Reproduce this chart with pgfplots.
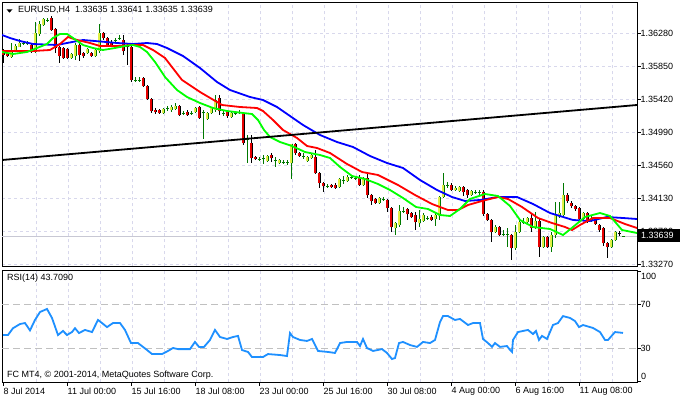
\documentclass[border=0pt]{standalone}
\usepackage{pgfplots}
\pgfplotsset{compat=1.18}
\usepackage{pgfplotstable}
\usepackage{fontspec}
\setmainfont{Liberation Sans}
\definecolor{gridc}{RGB}{216,216,236}
\definecolor{bullw}{RGB}{0,120,0}
\definecolor{bullf}{RGB}{225,240,70}
\definecolor{bearf}{RGB}{230,0,0}
\definecolor{rsic}{RGB}{30,144,255}
\definecolor{lvl}{RGB}{192,192,192}
\definecolor{bidc}{RGB}{200,200,212}
\newcommand\mtf{\fontsize{9bp}{11bp}\selectfont}

\pgfplotstableread{
i o h l c
2 1.35968 1.36150 1.35955 1.36059
3 1.36059 1.36137 1.36046 1.36111
4 1.36098 1.36202 1.36098 1.36150
5 1.36150 1.36176 1.36124 1.36150
6 1.36137 1.36176 1.36124 1.36150
8 1.36033 1.36423 1.36020 1.36280
9 1.36267 1.36436 1.36241 1.36397
10 1.36384 1.36475 1.36371 1.36462
11 1.36449 1.36475 1.36423 1.36449
17 1.35955 1.36020 1.35942 1.36007
18 1.35981 1.36150 1.35929 1.36124
21 1.36020 1.36085 1.36007 1.36072
23 1.35981 1.36072 1.35968 1.36059
24 1.36046 1.36397 1.36020 1.36280
28 1.36176 1.36215 1.36150 1.36189
29 1.36215 1.36254 1.36189 1.36215
33 1.35669 1.35708 1.35643 1.35669
34 1.35669 1.35708 1.35643 1.35669
40 1.35240 1.35305 1.35227 1.35292
41 1.35305 1.35331 1.35266 1.35305
42 1.35279 1.35344 1.35253 1.35318
43 1.35292 1.35370 1.35279 1.35331
45 1.35240 1.35266 1.35214 1.35240
47 1.35240 1.35266 1.35214 1.35240
48 1.35253 1.35318 1.35240 1.35305
50 1.35240 1.35279 1.34902 1.35253
51 1.35162 1.35253 1.35149 1.35240
52 1.35240 1.35305 1.35227 1.35305
53 1.35279 1.35474 1.35253 1.35409
55 1.35240 1.35279 1.35201 1.35240
57 1.35188 1.35253 1.35175 1.35240
58 1.35240 1.35266 1.35214 1.35240
59 1.35240 1.35279 1.35227 1.35253
61 1.34889 1.34954 1.34590 1.34902
64 1.34642 1.34668 1.34616 1.34642
65 1.34642 1.34694 1.34577 1.34655
66 1.34616 1.34694 1.34603 1.34681
68 1.34629 1.34668 1.34538 1.34629
69 1.34590 1.34642 1.34577 1.34629
70 1.34603 1.34629 1.34577 1.34603
71 1.34603 1.34629 1.34564 1.34603
72 1.34590 1.34837 1.34382 1.34837
75 1.34681 1.34720 1.34642 1.34681
76 1.34616 1.34681 1.34603 1.34668
77 1.34655 1.34707 1.34642 1.34694
81 1.34291 1.34317 1.34265 1.34291
84 1.34278 1.34395 1.34265 1.34382
85 1.34369 1.34421 1.34317 1.34369
86 1.34356 1.34434 1.34343 1.34408
87 1.34408 1.34434 1.34382 1.34408
88 1.34395 1.34421 1.34369 1.34395
90 1.34304 1.34408 1.34291 1.34395
94 1.34070 1.34148 1.34057 1.34135
95 1.34122 1.34148 1.34096 1.34122
98 1.33745 1.33823 1.33654 1.33810
99 1.33784 1.34044 1.33758 1.33966
100 1.33966 1.34018 1.33940 1.33966
104 1.33810 1.33979 1.33758 1.33862
105 1.33836 1.33940 1.33823 1.33914
106 1.33875 1.33901 1.33849 1.33875
108 1.33862 1.33953 1.33771 1.33914
109 1.33901 1.34161 1.33849 1.34148
110 1.34148 1.34460 1.34135 1.34304
111 1.34304 1.34343 1.34265 1.34304
113 1.34239 1.34291 1.34226 1.34265
114 1.34226 1.34291 1.34213 1.34278
117 1.34174 1.34239 1.34161 1.34226
118 1.34213 1.34239 1.34187 1.34213
119 1.34213 1.34239 1.34174 1.34213
123 1.33693 1.33784 1.33680 1.33758
125 1.33667 1.33719 1.33641 1.33667
126 1.33667 1.33745 1.33498 1.33667
128 1.33485 1.33784 1.33459 1.33693
129 1.33693 1.33849 1.33680 1.33823
130 1.33823 1.33875 1.33797 1.33823
131 1.33823 1.33888 1.33810 1.33875
133 1.33745 1.33953 1.33732 1.33836
135 1.33498 1.33641 1.33485 1.33628
137 1.33498 1.33693 1.33433 1.33654
138 1.33654 1.34083 1.33615 1.33914
139 1.33888 1.34083 1.33875 1.33940
140 1.33914 1.34330 1.33875 1.34174
145 1.33862 1.33953 1.33849 1.33940
147 1.33836 1.33901 1.33823 1.33875
152 1.33498 1.33602 1.33485 1.33589
153 1.33589 1.33706 1.33576 1.33693
155 1.33635 1.33641 1.33635 1.33639
}\bull

\pgfplotstableread{
i o h l c
0 1.36059 1.36072 1.35890 1.35994
1 1.36020 1.36033 1.35968 1.35981
7 1.36124 1.36137 1.36020 1.36033
12 1.36475 1.36501 1.36306 1.36319
13 1.36332 1.36345 1.36020 1.36085
14 1.36098 1.36111 1.35890 1.35981
15 1.36085 1.36098 1.35942 1.35955
16 1.36072 1.36085 1.35942 1.35955
19 1.36124 1.36150 1.35916 1.35994
20 1.36020 1.36033 1.35955 1.35981
22 1.36020 1.36033 1.35968 1.35981
25 1.36280 1.36293 1.36189 1.36215
26 1.36215 1.36228 1.36098 1.36111
27 1.36163 1.36189 1.36098 1.36111
30 1.36189 1.36254 1.35994 1.36046
31 1.36111 1.36150 1.35864 1.36098
32 1.36098 1.36124 1.35643 1.35669
35 1.35695 1.35708 1.35578 1.35591
36 1.35591 1.35604 1.35409 1.35422
37 1.35422 1.35435 1.35240 1.35266
38 1.35279 1.35305 1.35227 1.35253
39 1.35279 1.35292 1.35227 1.35240
44 1.35331 1.35344 1.35201 1.35214
46 1.35253 1.35279 1.35201 1.35214
49 1.35318 1.35331 1.35162 1.35175
54 1.35435 1.35474 1.35214 1.35266
56 1.35253 1.35279 1.35175 1.35201
60 1.35240 1.35253 1.34824 1.34850
62 1.34850 1.34954 1.34590 1.34655
63 1.34668 1.34681 1.34629 1.34642
67 1.34694 1.34720 1.34603 1.34655
73 1.34837 1.34850 1.34694 1.34720
74 1.34720 1.34733 1.34668 1.34681
78 1.34668 1.34759 1.34447 1.34460
79 1.34460 1.34473 1.34265 1.34330
80 1.34330 1.34343 1.34213 1.34291
82 1.34304 1.34317 1.34265 1.34278
83 1.34304 1.34330 1.34252 1.34265
89 1.34408 1.34434 1.34291 1.34304
91 1.34395 1.34460 1.34135 1.34174
92 1.34174 1.34187 1.34044 1.34096
93 1.34122 1.34135 1.34057 1.34070
96 1.34109 1.34122 1.33953 1.34005
97 1.34005 1.34018 1.33693 1.33758
101 1.33992 1.34005 1.33849 1.33927
102 1.33940 1.33953 1.33875 1.33888
103 1.33914 1.33953 1.33719 1.33823
107 1.33888 1.33914 1.33836 1.33849
112 1.34304 1.34330 1.34226 1.34239
115 1.34278 1.34291 1.34161 1.34213
116 1.34239 1.34252 1.34135 1.34174
120 1.34213 1.34239 1.33901 1.33927
121 1.33927 1.33940 1.33836 1.33849
122 1.33849 1.33862 1.33563 1.33693
124 1.33758 1.33771 1.33641 1.33654
127 1.33654 1.33667 1.33329 1.33485
132 1.33875 1.33940 1.33693 1.33745
134 1.33836 1.33875 1.33368 1.33498
136 1.33628 1.33641 1.33485 1.33498
141 1.34174 1.34200 1.34070 1.34096
142 1.34070 1.34096 1.34005 1.34031
143 1.34031 1.34044 1.33966 1.33992
144 1.34005 1.34018 1.33836 1.33862
146 1.33940 1.33953 1.33810 1.33836
148 1.33849 1.33875 1.33784 1.33797
149 1.33784 1.33797 1.33693 1.33719
150 1.33745 1.33758 1.33511 1.33550
151 1.33550 1.33563 1.33355 1.33498
154 1.33680 1.33706 1.33641 1.33667
}\bear

\pgfplotstableread{
i p
-0.25 1.36254
1.75 1.36215
4.25 1.36176
7.5 1.36137
13.5 1.36124
16 1.36150
20 1.36189
24.25 1.36170
28.5 1.36150
32.5 1.36137
36 1.36150
38.5 1.36137
41 1.36085
45 1.35981
49.25 1.35825
53.5 1.35643
56.75 1.35539
61.75 1.35448
65 1.35409
68.5 1.35318
71.75 1.35201
75 1.35084
79.25 1.34954
83.5 1.34863
87.5 1.34798
91.75 1.34681
96 1.34590
100 1.34525
104.25 1.34369
108.5 1.34239
112.25 1.34148
115.5 1.34096
119.25 1.34109
123.75 1.34148
128.5 1.34148
132.5 1.34057
136.75 1.33940
142.5 1.33849
146.75 1.33836
151 1.33888
155 1.33875
158.5 1.33862
}\mablue

\pgfplotstableread{
i p
-0.25 1.36046
3.5 1.36046
7.5 1.36046
11.75 1.36059
14.25 1.36137
16.25 1.36228
18.5 1.36189
21.75 1.36150
24.25 1.36111
28.5 1.36111
32.5 1.36124
35 1.36124
37.5 1.36059
40.5 1.35955
44.75 1.35669
49.25 1.35513
53.5 1.35383
54.75 1.35344
59.25 1.35318
63.5 1.35305
65 1.35266
67.5 1.35149
70 1.35019
73.5 1.34915
76 1.34811
78.5 1.34785
81.75 1.34720
86 1.34577
89.75 1.34473
93.75 1.34434
98.75 1.34304
103 1.34174
107.25 1.34057
111.25 1.33979
113.75 1.33979
116.25 1.34044
119.75 1.34096
123.75 1.34148
126.25 1.34122
129.75 1.34018
133.75 1.33875
137.25 1.33810
140.5 1.33758
142.25 1.33719
144.25 1.33784
147.5 1.33875
151.75 1.33875
155.5 1.33797
158.5 1.33745
}\mared

\pgfplotstableread{
i p
-0.25 1.36033
2.5 1.36007
6 1.36033
8.5 1.36085
11 1.36137
12.5 1.36215
14.25 1.36267
16 1.36267
17.5 1.36215
20 1.36124
22.5 1.36085
25 1.36059
28 1.36085
30.5 1.36111
32.5 1.36124
34.25 1.36098
36 1.36033
38 1.35903
40.5 1.35708
43.5 1.35539
46 1.35448
49.25 1.35370
52.5 1.35305
56 1.35266
60 1.35240
62.25 1.35227
63.75 1.35149
65.25 1.35019
66.75 1.34928
69.25 1.34863
72.25 1.34811
75.5 1.34733
79.25 1.34694
81.75 1.34655
84.25 1.34538
87.25 1.34421
90.5 1.34382
93.75 1.34317
96.75 1.34239
100 1.34135
103.25 1.34018
106.25 1.33992
109.25 1.33914
111.75 1.33901
114.25 1.33992
116.75 1.34122
120.5 1.34187
123.75 1.34161
126.75 1.34031
129.25 1.33849
132.5 1.33758
136.75 1.33732
140 1.33654
142.5 1.33758
145.5 1.33888
149.25 1.33940
151.75 1.33901
154.75 1.33719
158.5 1.33680
}\magreen

\pgfplotstableread{
i v
0 41.8
1.25 41.8
2.5 48
4.25 51.8
5.5 52.7
6.75 46
8 55.5
9.25 62.7
11 65.5
12.25 57.3
13.75 41.8
15 45.5
16 41.8
17.25 44.5
18 48
19 43.6
20.5 46.4
22.25 44.5
23.75 55.5
24.75 52.7
26 49
27.5 52.7
29.25 52.7
30.5 46.4
32 34.5
33.75 34.5
36 28.2
37.25 24.5
39.75 24.5
41.25 27.3
42.5 30
43.75 29
46.75 29
48 35.5
49 31
50.25 31
51.75 37.3
53 46.4
54.25 40
56 38.2
57.5 40
58.75 41
59.75 28.2
61.25 26.4
62.25 21.8
65 21.8
66.25 24.5
69.25 23.6
71 22.7
71.75 43.6
72.5 40
74.25 37.3
76 36.4
77.25 38.2
78.75 27.3
81.25 26.4
83 25.5
84.25 34.5
86 35.5
88.5 35.5
89.25 31.8
90 38.2
91 30
92.5 27.3
94.75 29
96 25.5
97.25 20
98 20.9
99 34.5
100 35.5
101.75 32.7
103.5 31
105 35.5
106.75 34.5
108 37.3
109.25 53.6
110 59
111.25 59
113 55.5
114.25 56.4
116.25 50.9
117.5 52.7
119.25 52.7
120 38.2
121.25 34.5
122.25 31
123 34.5
124.25 31
126 31.8
126.75 28.2
127.25 26.4
127.5 37.3
128.75 44.5
130 45.5
131.25 46.4
132.5 42.7
133.25 45.5
134 37.3
134.75 41
136 38.2
137.5 50.9
138.75 52.7
140 59
141.75 57.3
143 54.5
144 49
145 50.9
147.5 48.2
149.25 44.5
150.5 37.3
151.25 37.3
153 44.5
155 43.709
}\rsi

\pgfplotsset{
  mt/.style={
    scale only axis, width=635bp,
    xmin=-0.25, xmax=158.5,
    axis line style={black, line width=0.9bp},
    tick label style={font=\mtf, /pgf/number format/assume math mode=true},
    ytick pos=right, yticklabel pos=right,
    tick align=outside, major tick length=3.5bp,
    tick style={black, line width=0.8bp},
    yticklabel style={anchor=west, inner sep=0pt},
    major grid style={gridc, dash pattern=on 3bp off 3bp, line width=0.8bp},
  },
  cndl/.style={draw=none, mark=none, forget plot,
    error bars/y dir=both, error bars/y explicit, error bars/error mark=none},
}

\begin{document}
\begin{tikzpicture}
\useasboundingbox (0,0) rectangle (680bp,400bp);
\fill[white] (0,0) rectangle (680bp,400bp);

\begin{axis}[mt, at={(2bp,133.5bp)}, anchor=south west, height=264.5bp,
  ymin=1.332445, ymax=1.36683,
  xtick={8.25,16.25,...,152.25}, xticklabels={}, xmajorgrids, xtick style={draw=none},
  ytick={1.3327,1.337,1.3413,1.3456,1.3499,1.3542,1.3585,1.3628},
  ymajorgrids,
  yticklabel={\pgfmathprintnumber[fixed,fixed zerofill,precision=5,assume math mode=true]{\tick}},
]
\addplot[bidc, line width=0.8bp, forget plot] coordinates {(-0.25,1.33639) (158.5,1.33639)};
% wicks
\addplot[cndl, error bars/error bar style={draw=black, line width=1bp, solid}]
  table[x=i, y=l, y error plus expr=\thisrow{h}-\thisrow{l}, y error minus expr=0] {\bear};
\addplot[cndl, error bars/error bar style={draw=bullw, line width=1bp, solid}]
  table[x=i, y=l, y error plus expr=\thisrow{h}-\thisrow{l}, y error minus expr=0] {\bull};
% bodies outline
\addplot[cndl, error bars/error bar style={draw=black, line width=3bp, solid}]
  table[x=i, y expr=\thisrow{c}-0.00006, y error plus expr=\thisrow{o}-\thisrow{c}+0.00012, y error minus expr=0] {\bear};
\addplot[cndl, error bars/error bar style={draw=bullw, line width=3bp, solid}]
  table[x=i, y expr=\thisrow{o}-0.00006, y error plus expr=\thisrow{c}-\thisrow{o}+0.00012, y error minus expr=0] {\bull};
% bodies fill
\addplot[cndl, restrict expr to domain={\thisrow{o}-\thisrow{c}}{0.00015:1},
  error bars/error bar style={draw=bearf, line width=1.1bp, solid}]
  table[x=i, y expr=\thisrow{c}+0.00006, y error plus expr=\thisrow{o}-\thisrow{c}-0.00012, y error minus expr=0] {\bear};
\addplot[cndl, restrict expr to domain={\thisrow{c}-\thisrow{o}}{0.00015:1},
  error bars/error bar style={draw=bullf, line width=1.1bp, solid}]
  table[x=i, y expr=\thisrow{o}+0.00006, y error plus expr=\thisrow{c}-\thisrow{o}-0.00012, y error minus expr=0] {\bull};
% moving averages
\addplot[blue, line width=1.8bp, mark=none] table[x=i, y=p] {\mablue};
\addplot[red, line width=1.8bp, mark=none] table[x=i, y=p] {\mared};
\addplot[green, line width=1.8bp, mark=none] table[x=i, y=p] {\magreen};
% trend line
\addplot[black, line width=1.8bp, mark=none] coordinates {(-0.25,1.34629) (158.5,1.35344)};
\end{axis}

% current price box
\fill[black] (638bp,158bp) rectangle (680bp,171bp);
\node[white, anchor=west, inner sep=0pt, font=\mtf] at (641bp,164.5bp) {1.33639};
% title
\fill[black] (6.5bp,390.7bp) -- (12.5bp,390.7bp) -- (9.5bp,387.3bp) -- cycle;
\node[anchor=west, inner sep=0pt, font=\mtf] at (18bp,390bp) {EURUSD,H4\hspace{5bp}1.33635 1.33641 1.33635 1.33639};

\begin{axis}[mt, at={(2bp,18bp)}, anchor=south west, height=112bp,
  ymin=-0.9, ymax=100.9,
  xtick={0,16,...,144},
  xticklabels={8 Jul 2014,11 Jul 00:00,15 Jul 16:00,18 Jul 08:00,23 Jul 00:00,25 Jul 16:00,30 Jul 08:00,4 Aug 00:00,6 Aug 16:00,11 Aug 08:00},
  xtick pos=left,
  xticklabel style={anchor=north west, inner sep=0pt, xshift=0.5bp, yshift=-2bp},
  extra x ticks={8.25,16.25,...,152.25}, extra x tick labels={},
  extra x tick style={grid=major, major tick length=0pt},
  ytick={30,70},
  extra y ticks={0,100}, extra y tick labels={},
]
\addplot[lvl, dash pattern=on 7bp off 4bp, line width=0.9bp, forget plot] coordinates {(-0.25,70) (158.5,70)};
\addplot[lvl, dash pattern=on 7bp off 4bp, line width=0.9bp, forget plot] coordinates {(-0.25,30) (158.5,30)};
\addplot[rsic, line width=1.8bp, mark=none] table[x=i, y=v] {\rsi};
\end{axis}
\node[anchor=west, inner sep=0pt, font=\mtf] at (641bp,124bp) {100};
\node[anchor=west, inner sep=0pt, font=\mtf] at (641bp,24bp) {0};
\node[anchor=west, inner sep=0pt, font=\mtf] at (7bp,122bp) {RSI(14) 43.7090};
\node[anchor=west, inner sep=0pt, font=\mtf] at (7bp,25bp) {FC MT4, © 2001-2014, MetaQuotes Software Corp.};
\end{tikzpicture}
\end{document}
